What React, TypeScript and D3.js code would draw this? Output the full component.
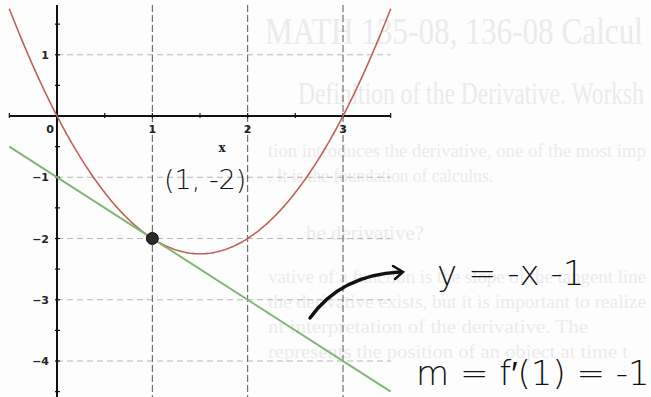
import React from "react";
import * as d3 from "d3";

const W = 651;
const H = 397;

// Function and tangent (f(x) = x^2 - 3x, tangent at x=1)
const curveCoeffs = [1, -3, 0]; // a, b, c
const tangentSlope = -1;
const tangentIntercept = -1;
const pointOfTangency = { x: 1, y: -2 };

const xTicks = [0, 1, 2, 3];
const yTicks = [1, -1, -2, -3, -4];
const xMinor = [-0.5, 0.5, 1.5, 2.5, 3.5];
const yMinor = [1.5, 0.5, -0.5, -1.5, -2.5, -3.5, -4.5];
const xDomain = [-0.5, 3.5];

const handNotes = [
  { text: "(1, -2)", x: 164, y: 189, size: 27 },
  { text: "y = -x -1", x: 437, y: 285, size: 34 },
  { text: "m = f\u2032(1) = -1", x: 416, y: 385, size: 34 },
];

const bgLines = [
  { text: "MATH 135-08, 136-08 Calcul", x: 265, y: 44, size: 38, len: 378 },
  { text: "Definition of the Derivative. Worksh", x: 298, y: 104, size: 32, len: 346 },
  { text: "tion introduces the derivative, one of the most imp", x: 268, y: 157, size: 19, len: 378 },
  { text: ". It is the foundation of calculus.", x: 268, y: 182, size: 19, len: 225 },
  { text: "he derivative?", x: 306, y: 240, size: 20, len: 118 },
  { text: "vative of a function is the slope of the tangent line", x: 268, y: 283, size: 19, len: 378 },
  { text: "the derivative exists, but it is important to realize", x: 268, y: 308, size: 19, len: 378 },
  { text: "nt interpretation of the derivative. The", x: 268, y: 333, size: 19, len: 320 },
  { text: "represents the position of an object at time t", x: 268, y: 358, size: 19, len: 360 },
];

export default function App() {
  const x = d3.scaleLinear().domain([0, 3]).range([57, 343]);
  const y = d3.scaleLinear().domain([0, -4]).range([116, 361]);

  const f = (v: number) => curveCoeffs[0] * v * v + curveCoeffs[1] * v + curveCoeffs[2];
  const samples = d3.range(xDomain[0], xDomain[1] + 0.0001, 0.02);
  const curve = d3
    .line<number>()
    .x((d) => x(d))
    .y((d) => y(f(d)))(samples);
  const tangent = d3
    .line<number>()
    .x((d) => x(d))
    .y((d) => y(tangentSlope * d + tangentIntercept))(xDomain);

  const x0 = x(0);
  const y0 = y(0);
  const left = x(xDomain[0]);
  const right = x(xDomain[1]);

  return (
    <svg
      width={W}
      height={H}
      style={{ position: "absolute", left: 0, top: 0, background: "#fff" }}
    >
      <rect width={W} height={H} fill="#fdfdfd" />
      {bgLines.map((b, i) => (
        <text
          key={i}
          x={b.x}
          y={b.y}
          fontSize={b.size}
          fontFamily="Liberation Serif, DejaVu Serif, serif"
          fill="#ebebeb"
          textLength={b.len}
          lengthAdjust="spacingAndGlyphs"
        >
          {b.text}
        </text>
      ))}
      {/* horizontal grid */}
      {yTicks.map((t) => (
        <line
          key={"hg" + t}
          x1={x0}
          x2={right}
          y1={y(t)}
          y2={y(t)}
          stroke="#b8b8b8"
          strokeWidth={1}
          strokeDasharray="6,4"
        />
      ))}
      {/* vertical grid */}
      {xTicks
        .filter((t) => t !== 0)
        .map((t) => (
          <line
            key={"vg" + t}
            x1={x(t)}
            x2={x(t)}
            y1={5}
            y2={H}
            stroke="#555"
            strokeWidth={1}
            strokeDasharray="7,3"
          />
        ))}
      {/* axes */}
      <line x1={left} x2={right} y1={y0} y2={y0} stroke="#111" strokeWidth={2} />
      <line x1={x0} x2={x0} y1={5} y2={H} stroke="#111" strokeWidth={2} />
      {[...xTicks, ...xMinor].map((t, i) => (
        <line key={"xt" + i} x1={x(t)} x2={x(t)} y1={y0 - 3} y2={y0 + 2} stroke="#111" strokeWidth={1.2} />
      ))}
      {[...yTicks, ...yMinor].map((t, i) => (
        <line key={"yt" + i} x1={x0 - 2} x2={x0 + 3} y1={y(t)} y2={y(t)} stroke="#111" strokeWidth={1.2} />
      ))}
      {/* tick labels */}
      {xTicks.map((t) => (
        <text
          key={"xl" + t}
          x={t === 0 ? x(t) - 7 : x(t)}
          y={y0 + 17}
          fontSize={11}
          fontWeight="bold"
          fontFamily="DejaVu Sans, sans-serif"
          textAnchor="middle"
          fill="#222"
        >
          {t}
        </text>
      ))}
      <text x={222} y={152} fontSize={12} fontWeight="bold" fontFamily="DejaVu Serif, serif" textAnchor="middle" fill="#222">
        x
      </text>
      {yTicks.map((t) => (
        <text
          key={"yl" + t}
          x={x0 - 8}
          y={y(t) + 4}
          fontSize={11}
          fontWeight="bold"
          fontFamily="DejaVu Sans, sans-serif"
          textAnchor="end"
          fill="#222"
        >
          {t < 0 ? "\u2212" + Math.abs(t) : t}
        </text>
      ))}
      {/* curves */}
      <path d={curve || ""} fill="none" stroke="#c0605a" strokeWidth={1.6} />
      <path d={tangent || ""} fill="none" stroke="#7cba72" strokeWidth={2} />
      <circle cx={x(pointOfTangency.x)} cy={y(pointOfTangency.y)} r={6} fill="#2a2a2a" stroke="#111" strokeWidth={1} />
      {/* handwriting */}
      <path d="M310,318 C330,290 360,274 400,272" fill="none" stroke="#111" strokeWidth={3.5} strokeLinecap="round" />
      <path d="M393,266 L403,272 L395,279" fill="none" stroke="#111" strokeWidth={2.5} strokeLinecap="round" />
      {handNotes.map((n, i) => (
        <text
          key={"hn" + i}
          x={n.x}
          y={n.y}
          fontSize={n.size}
          fontFamily="DejaVu Sans, sans-serif"
          fontWeight={300}
          fill="#111"
        >
          {n.text}
        </text>
      ))}
    </svg>
  );
}
